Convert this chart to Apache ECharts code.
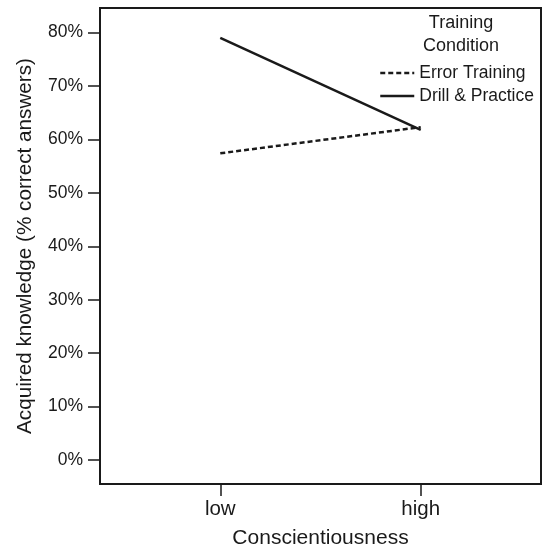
<!DOCTYPE html>
<html>
<head>
<meta charset="utf-8">
<script src="https://cdn.jsdelivr.net/npm/echarts@6/dist/echarts.min.js"></script>
<style>html,body{margin:0;padding:0;background:#fff;}#c{width:542px;height:549px;}</style>
</head>
<body>
<div id="c"></div>
<script>
// Data
const categories = ['low', 'high'];
const categoryPositions = [1, 2];
const errorTraining = [57.4, 62.3];
const drillPractice = [79.0, 61.8];
const yTickValues = [0, 10, 20, 30, 40, 50, 60, 70, 80];
const seriesNames = ['Error Training', 'Drill & Practice'];

const font = '"Liberation Sans", Arial, Helvetica, sans-serif';
const ink = '#1a1a1a';

const chart = echarts.init(document.getElementById('c'), null, {renderer: 'canvas'});
chart.setOption({
  animation: false,
  backgroundColor: '#fff',
  title: {
    text: 'Training\nCondition',
    left: 456,
    top: 7,
    textAlign: 'center',
    textStyle: {fontFamily: font, fontSize: 18, fontWeight: 'normal', color: ink, lineHeight: 23}
  },
  legend: {
    orient: 'vertical',
    left: 374,
    top: 58,
    itemWidth: 34,
    itemHeight: 14,
    itemGap: 3,
    data: seriesNames,
    itemStyle: {opacity: 0},
    lineStyle: {width: 2.5, color: ink},
    textStyle: {fontFamily: font, fontSize: 17.5, color: ink, lineHeight: 20}
  },
  grid: {
    left: 100, right: 1, top: 8, bottom: 65,
    outerBoundsMode: 'none',
    containLabel: false,
    show: true, borderColor: ink, borderWidth: 2, backgroundColor: 'transparent'
  },
  xAxis: {
    type: 'value',
    min: 0.4, max: 2.6,
    name: 'Conscientiousness',
    nameLocation: 'middle',
    nameGap: 44,
    nameTextStyle: {fontFamily: font, fontSize: 21, color: ink},
    axisLine: {show: false, onZero: false},
    splitLine: {show: false},
    axisTick: {show: true, length: 12, lineStyle: {color: ink, width: 1.5}, customValues: categoryPositions},
    axisLabel: {
      margin: 15,
      fontFamily: font, fontSize: 20.5, color: ink,
      customValues: categoryPositions,
      formatter: v => categories[categoryPositions.indexOf(v)] || ''
    }
  },
  yAxis: {
    type: 'value',
    min: -4.5, max: 84.6,
    name: 'Acquired knowledge (% correct answers)',
    nameLocation: 'middle',
    nameGap: 64,
    nameRotate: 90,
    nameTextStyle: {fontFamily: font, fontSize: 20.7, color: ink},
    axisLine: {show: false, onZero: false},
    splitLine: {show: false},
    axisTick: {show: true, length: 12, lineStyle: {color: ink, width: 1.5}, customValues: yTickValues},
    axisLabel: {
      margin: 17,
      fontFamily: font, fontSize: 17.5, color: ink,
      customValues: yTickValues,
      formatter: v => v + '%'
    }
  },
  series: [
    {
      name: seriesNames[0], type: 'line', symbol: 'none',
      data: categoryPositions.map((x, i) => [x, errorTraining[i]]),
      lineStyle: {color: ink, width: 2.5, type: [5, 3]},
      itemStyle: {color: ink}
    },
    {
      name: seriesNames[1], type: 'line', symbol: 'none',
      data: categoryPositions.map((x, i) => [x, drillPractice[i]]),
      lineStyle: {color: ink, width: 2.5, type: 'solid'},
      itemStyle: {color: ink}
    }
  ]
});
</script>
</body>
</html>
